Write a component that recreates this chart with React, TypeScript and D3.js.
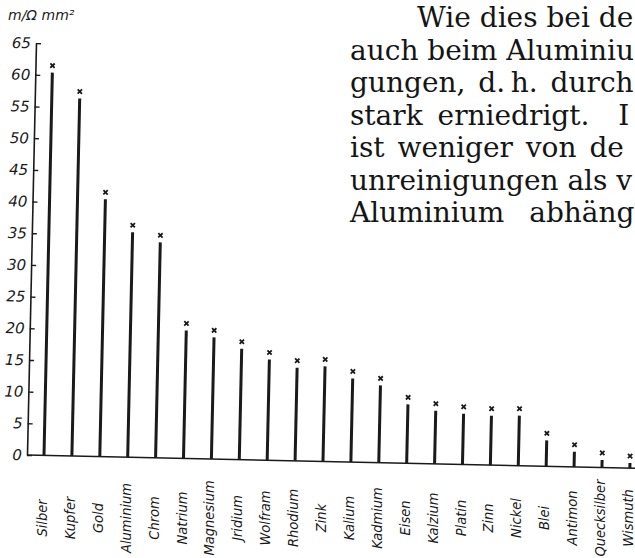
import React, { useEffect, useRef } from 'react'
import * as d3 from 'd3'

// Leitfähigkeit der Metalle (m / Ohm mm²)
const metals = [
  'Silber', 'Kupfer', 'Gold', 'Aluminium', 'Chrom', 'Natrium', 'Magnesium',
  'Jridium', 'Wolfram', 'Rhodium', 'Zink', 'Kalium', 'Kadmium', 'Eisen',
  'Kalzium', 'Platin', 'Zinn', 'Nickel', 'Blei', 'Antimon', 'Quecksilber', 'Wismuth',
]
const conductivity = [
  60.4, 56.4, 40.6, 35.5, 34.0, 20.2, 19.2, 17.5, 15.9, 14.7, 15.0,
  13.2, 12.2, 9.3, 8.4, 8.0, 7.8, 7.9, 4.1, 2.4, 1.2, 0.8,
]
const yTicks = [0, 5, 10, 15, 20, 25, 30, 35, 40, 45, 50, 55, 60, 65]
const unitLabel = 'm/Ω mm²'

// Buchtext rechts oben (so weit er im Bild zu sehen ist)
const pageLines = [
  'Wie dies bei de',
  'auch beim Aluminiu',
  'gungen, d.\u2009h. durch',
  'stark erniedrigt.\u2002 I',
  'ist weniger von de',
  'unreinigungen als v',
  'Aluminium abhäng',
]
const pageWordSpacing = [0, 0, 4, 6, 4, 0, 16]

export default function App() {
  const svgRef = useRef<SVGSVGElement>(null)

  useEffect(() => {
    document.body.style.margin = '0'
    drawChart()
  }, [])

  const drawChart = () => {
    const width = 635
    const height = 558
    const ink = '#1a1a1a'

    const svg = d3.select(svgRef.current)
    svg.selectAll('*').remove()
    svg.append('rect').attr('width', width).attr('height', height).attr('fill', '#fff')

    // text block
    svg.append('g')
      .selectAll('text')
      .data(pageLines)
      .join('text')
      .attr('x', (d, i) => (i === 0 ? 417 : 350))
      .attr('y', (d, i) => 27 + i * 32.5)
      .attr('font-family', "'DejaVu Serif', serif")
      .attr('font-size', 28)
      .attr('word-spacing', (d, i) => pageWordSpacing[i])
      .attr('fill', '#151515')
      .text(d => d)

    // unit label
    svg.append('text')
      .attr('x', 8)
      .attr('y', 20)
      .attr('font-family', "'DejaVu Sans', sans-serif")
      .attr('font-style', 'italic')
      .attr('font-size', 14)
      .attr('fill', ink)
      .text(unitLabel)

    const x0 = 27
    const xScale = d3.scalePoint().domain(metals).range([44, 630])
    const yScale = d3.scaleLinear().domain([0, 65]).range([455, 43])

    // the scanned page is slightly tilted
    const chart = svg.append('g').attr('transform', `rotate(1.25, ${x0}, ${yScale(0)})`)

    const yAxis = chart.append('g')
      .attr('transform', `translate(${x0},0)`)
      .call(d3.axisLeft(yScale).tickValues(yTicks).tickSize(-5).tickSizeOuter(0).tickPadding(5))
    yAxis.select('.domain').attr('stroke', ink).attr('stroke-width', 1.6)
    yAxis.selectAll('.tick line').attr('stroke', ink).attr('stroke-width', 1.4)
    yAxis.selectAll('.tick text')
      .attr('font-family', "'DejaVu Sans', sans-serif")
      .attr('font-style', 'italic')
      .attr('font-size', 15)
      .attr('fill', ink)

    // baseline
    chart.append('line')
      .attr('x1', x0)
      .attr('x2', 640)
      .attr('y1', yScale(0))
      .attr('y2', yScale(0))
      .attr('stroke', ink)
      .attr('stroke-width', 1.6)

    const rows = metals.map((m, i) => ({ metal: m, value: conductivity[i] }))

    chart.append('g')
      .selectAll('line')
      .data(rows)
      .join('line')
      .attr('x1', d => xScale(d.metal))
      .attr('x2', d => xScale(d.metal))
      .attr('y1', yScale(0))
      .attr('y2', d => yScale(d.value))
      .attr('stroke', ink)
      .attr('stroke-width', 3)

    const cross = d3.symbol().type(d3.symbolX).size(14)
    chart.append('g')
      .selectAll('path')
      .data(rows)
      .join('path')
      .attr('transform', d => `translate(${xScale(d.metal)},${yScale(d.value) - 7})`)
      .attr('d', cross)
      .attr('fill', 'none')
      .attr('stroke', ink)
      .attr('stroke-width', 1.8)

    // metal names
    svg.append('g')
      .selectAll('text')
      .data(rows)
      .join('text')
      .attr('transform', d => `translate(${xScale(d.metal)! - 2},518) rotate(-90)`)
      .attr('text-anchor', 'middle')
      .attr('dominant-baseline', 'central')
      .attr('font-family', "'DejaVu Sans Condensed', 'DejaVu Sans', sans-serif")
      .attr('font-style', 'italic')
      .attr('font-stretch', 'condensed')
      .attr('font-size', 14.5)
      .attr('fill', ink)
      .text(d => d.metal)
  }

  return (
    <div>
      <svg ref={svgRef} width={635} height={558} style={{ display: 'block' }}></svg>
    </div>
  )
}
